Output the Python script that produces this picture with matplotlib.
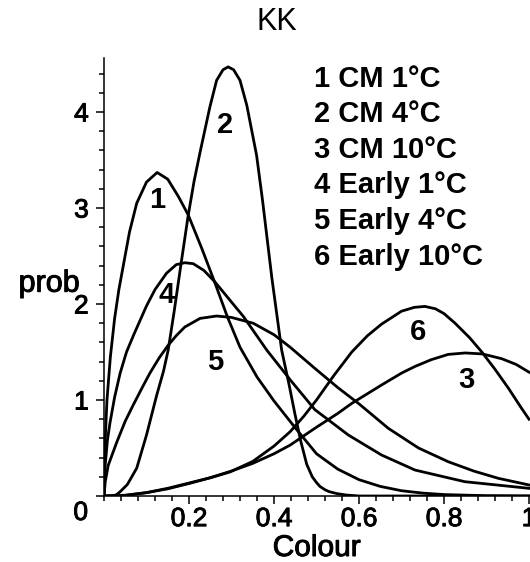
import matplotlib
matplotlib.use('Agg')
import matplotlib.pyplot as plt
import matplotlib.patheffects as pe
from matplotlib.ticker import MultipleLocator

plt.rcParams['font.family'] = ['Liberation Sans', 'DejaVu Sans']

# curve values (Colour, prob)
x1 = [0, 0.002, 0.007, 0.015, 0.025, 0.035, 0.045, 0.06, 0.077, 0.1, 0.125, 0.15, 0.175,
      0.198, 0.23, 0.261, 0.29, 0.32, 0.36, 0.4, 0.45, 0.5, 0.55, 0.6, 0.65, 0.7, 0.75,
      0.8, 0.9, 1.0]
y1 = [0, 0.5, 1.0, 1.45, 1.85, 2.15, 2.39, 2.75, 3.05, 3.27, 3.37, 3.3, 3.12,
      2.93, 2.58, 2.22, 1.87, 1.55, 1.24, 0.99, 0.71, 0.44, 0.28, 0.17, 0.1, 0.055, 0.03,
      0.015, 0.003, 0]

x2 = [0, 0.02, 0.03, 0.038, 0.055, 0.077, 0.1, 0.124, 0.14, 0.151, 0.165, 0.18, 0.198, 0.212,
      0.226, 0.249, 0.265, 0.28, 0.292, 0.305, 0.32, 0.336, 0.359, 0.373, 0.395, 0.418,
      0.435, 0.449, 0.463, 0.477, 0.49, 0.5, 0.508, 0.52, 0.53, 0.548, 0.57, 0.6, 1.0]
y2 = [0, 0, 0.015, 0.045, 0.12, 0.29, 0.635, 1.05, 1.3, 1.52, 1.92, 2.38, 2.92, 3.28,
      3.58, 4.05, 4.33, 4.44, 4.47, 4.44, 4.33, 4.07, 3.55, 3.08, 2.27, 1.52,
      1.17, 0.86, 0.57, 0.33, 0.2, 0.14, 0.1, 0.065, 0.045, 0.025, 0.01, 0, 0]

x3 = [0, 0.05, 0.1, 0.15, 0.2, 0.25, 0.3, 0.35, 0.4, 0.438, 0.496, 0.55, 0.583, 0.653,
      0.7, 0.732, 0.77, 0.81, 0.85, 0.89, 0.936, 0.97, 1.0]
y3 = [0, 0.008, 0.035, 0.075, 0.13, 0.19, 0.26, 0.34, 0.44, 0.53, 0.705, 0.86, 0.965, 1.156,
      1.28, 1.35, 1.42, 1.475, 1.49, 1.48, 1.43, 1.37, 1.29]

x4 = [0, 0.003, 0.008, 0.014, 0.025, 0.038, 0.053, 0.07, 0.085, 0.1, 0.12, 0.147, 0.17,
      0.19, 0.21, 0.235, 0.261, 0.3, 0.328, 0.383, 0.44, 0.496, 0.575, 0.653, 0.732,
      0.849, 1.0]
y4 = [0, 0.33, 0.58, 0.76, 1.03, 1.28, 1.5, 1.68, 1.83, 1.98, 2.15, 2.32, 2.41,
      2.43, 2.42, 2.35, 2.23, 2.02, 1.87, 1.52, 1.2, 0.9, 0.635, 0.427, 0.27,
      0.149, 0.08]

x5 = [0, 0.003, 0.01, 0.03, 0.05, 0.069, 0.09, 0.108, 0.13, 0.151, 0.17, 0.19, 0.226,
      0.265, 0.3, 0.351, 0.4, 0.438, 0.496, 0.55, 0.6, 0.669, 0.74, 0.81, 0.87, 0.928, 1.0]
y5 = [0, 0.15, 0.32, 0.56, 0.78, 0.95, 1.13, 1.28, 1.44, 1.57, 1.67, 1.76, 1.85,
      1.875, 1.86, 1.8, 1.68, 1.55, 1.33, 1.13, 0.96, 0.705, 0.5, 0.357, 0.26, 0.184, 0.115]

x6 = [0, 0.05, 0.1, 0.15, 0.2, 0.25, 0.296, 0.35, 0.4, 0.438, 0.47, 0.5, 0.54, 0.583,
      0.62, 0.653, 0.7, 0.73, 0.755, 0.78, 0.8, 0.826, 0.86, 0.889, 0.92, 0.952, 0.98, 1.0]
y6 = [0, 0.006, 0.035, 0.08, 0.135, 0.19, 0.25, 0.36, 0.52, 0.67, 0.83, 1.0, 1.25, 1.5,
      1.67, 1.79, 1.925, 1.965, 1.975, 1.95, 1.9, 1.8, 1.65, 1.5, 1.32, 1.12, 0.93, 0.8]

curves = [(x1, y1), (x2, y2), (x3, y3), (x4, y4), (x5, y5), (x6, y6)]

# number labels placed on the curves
label_x = [0.124, 0.285, 0.853, 0.1475, 0.261, 0.7395]
label_y = [3.0, 3.78, 1.12, 2.01, 1.31, 1.625]

legend_lines = ['1 CM 1°C', '2 CM 4°C', '3 CM 10°C',
                '4 Early 1°C', '5 Early 4°C', '6 Early 10°C']

W, H = 530, 562
fig = plt.figure(figsize=(W / 100, H / 100), dpi=100)
ax = fig.add_axes([104 / W, 66 / H, 426 / W, 438 / H])

for x, y in curves:
    ax.plot(x, y, color='black', linewidth=2.0, solid_joinstyle='round')

for i, (lx, ly) in enumerate(zip(label_x, label_y)):
    ax.text(lx, ly, str(i + 1), fontsize=21, fontweight='bold',
            ha='center', va='baseline')

ax.set_xlim(0, 426 / 425)
ax.set_ylim(0, 438 / 96)
ax.spines['top'].set_visible(False)
ax.spines['right'].set_visible(False)
for s in ('left', 'bottom'):
    ax.spines[s].set_linewidth(1.1)

# slightly heavier strokes for the axis texts
heavy = [pe.withStroke(linewidth=0.7, foreground='black')]

ax.set_xticks([0.2, 0.4, 0.6, 0.8, 1.0])
ax.set_xticklabels(['0.2', '0.4', '0.6', '0.8', '1'])
ax.set_yticks([0, 1, 2, 3, 4])
ax.set_yticklabels(['', '1', '2', '3', '4'])
ax.xaxis.set_minor_locator(MultipleLocator(0.04))
ax.yaxis.set_minor_locator(MultipleLocator(0.2))
ax.tick_params(which='major', length=6, width=1.1, labelsize=19, pad=2)
ax.tick_params(axis='y', which='major', pad=5)
ax.tick_params(which='minor', length=3.5, width=1.1)
for lab in ax.get_xticklabels() + ax.get_yticklabels():
    lab.set_path_effects(heavy)

# texts in pixel positions of the original picture
def fx(px):
    return px / W

def fy(py):
    return 1 - py / H

fig.text(fx(276.5), fy(22), 'KK', fontsize=22, ha='center', va='center')
fig.text(fx(49), fy(291.7), 'prob', fontsize=22, ha='center', va='baseline',
         path_effects=heavy)
fig.text(fx(88), fy(520), '0', fontsize=19, ha='right', va='baseline',
         path_effects=heavy)
fig.text(fx(316.7), fy(556), 'Colour', fontsize=21.5, ha='center', va='baseline',
         path_effects=heavy)

baselines = [87, 122, 158, 193, 229, 265]
for txt, b in zip(legend_lines, baselines):
    fig.text(fx(314), fy(b), txt, fontsize=21, fontweight='bold',
             ha='left', va='baseline')

fig.savefig('out.png', dpi=100)
